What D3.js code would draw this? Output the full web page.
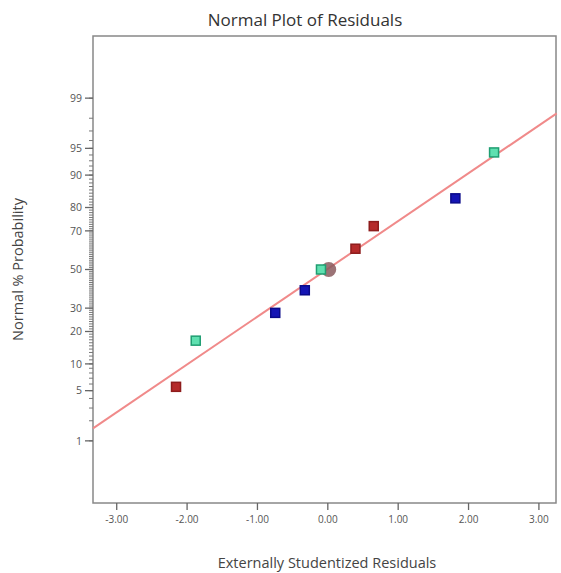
<!DOCTYPE html>
<html>
<head>
<meta charset="utf-8">
<script src="https://cdn.jsdelivr.net/npm/d3@7"></script>
<style>
body { margin: 0; background: #fff; }
text { font-family: "Open Sans", "Noto Sans", sans-serif; }
</style>
</head>
<body>
<svg id="chart" width="561" height="573"></svg>
<script>
// residuals (x) and normal % probability (y)
const residuals = [-2.15, -1.87, -0.74, -0.32, -0.09, 0.40, 0.66, 1.82, 2.37];
const probability = [5.56, 16.7, 27.8, 38.9, 50, 61.1, 72.2, 83.3, 94.4];
const groups = ["red", "green", "blue", "blue", "green", "red", "red", "blue", "green"];
const highlight = { x: 0.02, p: 50 };
const lineX = [-3.33, 3.26];
const lineP = [1.55, 98.3];
const xTicks = [-3, -2, -1, 0, 1, 2, 3];
const yTicks = [1, 5, 10, 20, 30, 50, 70, 80, 90, 95, 99];
const yMinor = d3.range(1, 100);

const colors = {
    red: { fill: "#b52a2a", stroke: "#8e1c1c" },
    green: { fill: "#5fe0b0", stroke: "#1f9e72" },
    blue: { fill: "#1414b4", stroke: "#0a0a8a" }
};

const svg = d3.select("#chart");
const margin = { top: 36, right: 5, bottom: 70, left: 93 };
const width = +svg.attr("width") - margin.left - margin.right;
const height = +svg.attr("height") - margin.top - margin.bottom;

// inverse normal CDF (Acklam's approximation), p in 0..1
function inverseNormal(p) {
    const a = [-3.969683028665376e+01, 2.209460984245205e+02, -2.759285104469687e+02, 1.383577518672690e+02, -3.066479806614716e+01, 2.506628277459239e+00];
    const b = [-5.447609879822406e+01, 1.615858368580409e+02, -1.556989798598866e+02, 6.680131188771972e+01, -1.328068155288572e+01];
    const c = [-7.784894002430293e-03, -3.223964580411365e-01, -2.400758277161838e+00, -2.549732539343734e+00, 4.374664141464968e+00, 2.938163982698783e+00];
    const d = [7.784695709041462e-03, 3.224671290700398e-01, 2.445134137142996e+00, 3.754408661907416e+00];
    const pl = 0.02425;
    let q, r;
    if (p < pl) {
        q = Math.sqrt(-2 * Math.log(p));
        return (((((c[0]*q+c[1])*q+c[2])*q+c[3])*q+c[4])*q+c[5]) / ((((d[0]*q+d[1])*q+d[2])*q+d[3])*q+1);
    } else if (p <= 1 - pl) {
        q = p - 0.5; r = q * q;
        return (((((a[0]*r+a[1])*r+a[2])*r+a[3])*r+a[4])*r+a[5])*q / (((((b[0]*r+b[1])*r+b[2])*r+b[3])*r+b[4])*r+1);
    }
    q = Math.sqrt(-2 * Math.log(1 - p));
    return -(((((c[0]*q+c[1])*q+c[2])*q+c[3])*q+c[4])*q+c[5]) / ((((d[0]*q+d[1])*q+d[2])*q+d[3])*q+1);
}

const x = d3.scaleLinear().domain([-3.33, 3.25]).range([0, width]);
const z = d3.scaleLinear().domain([-3.17, 3.17]).range([height, 0]);
const y = p => z(inverseNormal(p / 100));

const g = svg.append("g").attr("transform", `translate(${margin.left},${margin.top})`);

// frame
g.append("rect")
    .attr("width", width).attr("height", height)
    .attr("fill", "none").attr("stroke", "#888").attr("stroke-width", 1.5);

// fitted line
g.append("line")
    .attr("x1", x(lineX[0])).attr("y1", y(lineP[0]))
    .attr("x2", x(lineX[1])).attr("y2", y(lineP[1]))
    .attr("stroke", "#f08a8a").attr("stroke-width", 2);

// y axis ticks
g.selectAll(".minor")
    .data(yMinor)
    .enter().append("line")
    .attr("x1", -4).attr("x2", 0)
    .attr("y1", d => y(d)).attr("y2", d => y(d))
    .attr("stroke", "#777").attr("stroke-width", 1);

const yAxis = g.append("g").attr("class", "yaxis");
yAxis.selectAll("line")
    .data(yTicks)
    .enter().append("line")
    .attr("x1", -8).attr("x2", 0)
    .attr("y1", d => y(d)).attr("y2", d => y(d))
    .attr("stroke", "#666").attr("stroke-width", 1.3);
yAxis.selectAll("text")
    .data(yTicks)
    .enter().append("text")
    .attr("x", -11).attr("y", d => y(d))
    .attr("dy", "0.35em")
    .attr("text-anchor", "end")
    .attr("font-size", 10.5).attr("fill", "#555")
    .text(d => d);

// x axis
const xAxis = g.append("g")
    .attr("transform", `translate(0,${height})`)
    .call(d3.axisBottom(x).tickValues(xTicks)
        .tickFormat(d => d3.format(".2f")(d).replace("\u2212", "-"))
        .tickSize(7).tickSizeOuter(0).tickPadding(6));
xAxis.select(".domain").remove();
xAxis.selectAll("line").attr("stroke", "#666").attr("stroke-width", 1.3);
xAxis.selectAll("text").attr("font-size", 10).attr("fill", "#555")
    .style("font-family", "'Open Sans', sans-serif");

// highlighted point
g.append("circle")
    .attr("cx", x(highlight.x)).attr("cy", y(highlight.p))
    .attr("r", 7.5)
    .attr("fill", "#8a5a5e").attr("fill-opacity", 0.85);

// points
const s = 9;
g.selectAll(".pt")
    .data(residuals)
    .enter().append("rect")
    .attr("class", "pt")
    .attr("x", (d, i) => x(d) - s / 2)
    .attr("y", (d, i) => y(probability[i]) - s / 2)
    .attr("width", s).attr("height", s)
    .attr("fill", (d, i) => colors[groups[i]].fill)
    .attr("stroke", (d, i) => colors[groups[i]].stroke)
    .attr("stroke-width", 1.5);

// titles
svg.append("text")
    .attr("x", 305).attr("y", 26)
    .attr("text-anchor", "middle")
    .attr("font-size", 17).attr("fill", "#333")
    .text("Normal Plot of Residuals");

svg.append("text")
    .attr("x", 327).attr("y", 568)
    .attr("text-anchor", "middle")
    .attr("font-size", 14.5).attr("fill", "#444")
    .text("Externally Studentized Residuals");

svg.append("text")
    .attr("transform", `translate(23,${margin.top + z(0)}) rotate(-90)`)
    .attr("text-anchor", "middle")
    .attr("font-size", 14.5).attr("fill", "#444")
    .text("Normal % Probability");
</script>
</body>
</html>
